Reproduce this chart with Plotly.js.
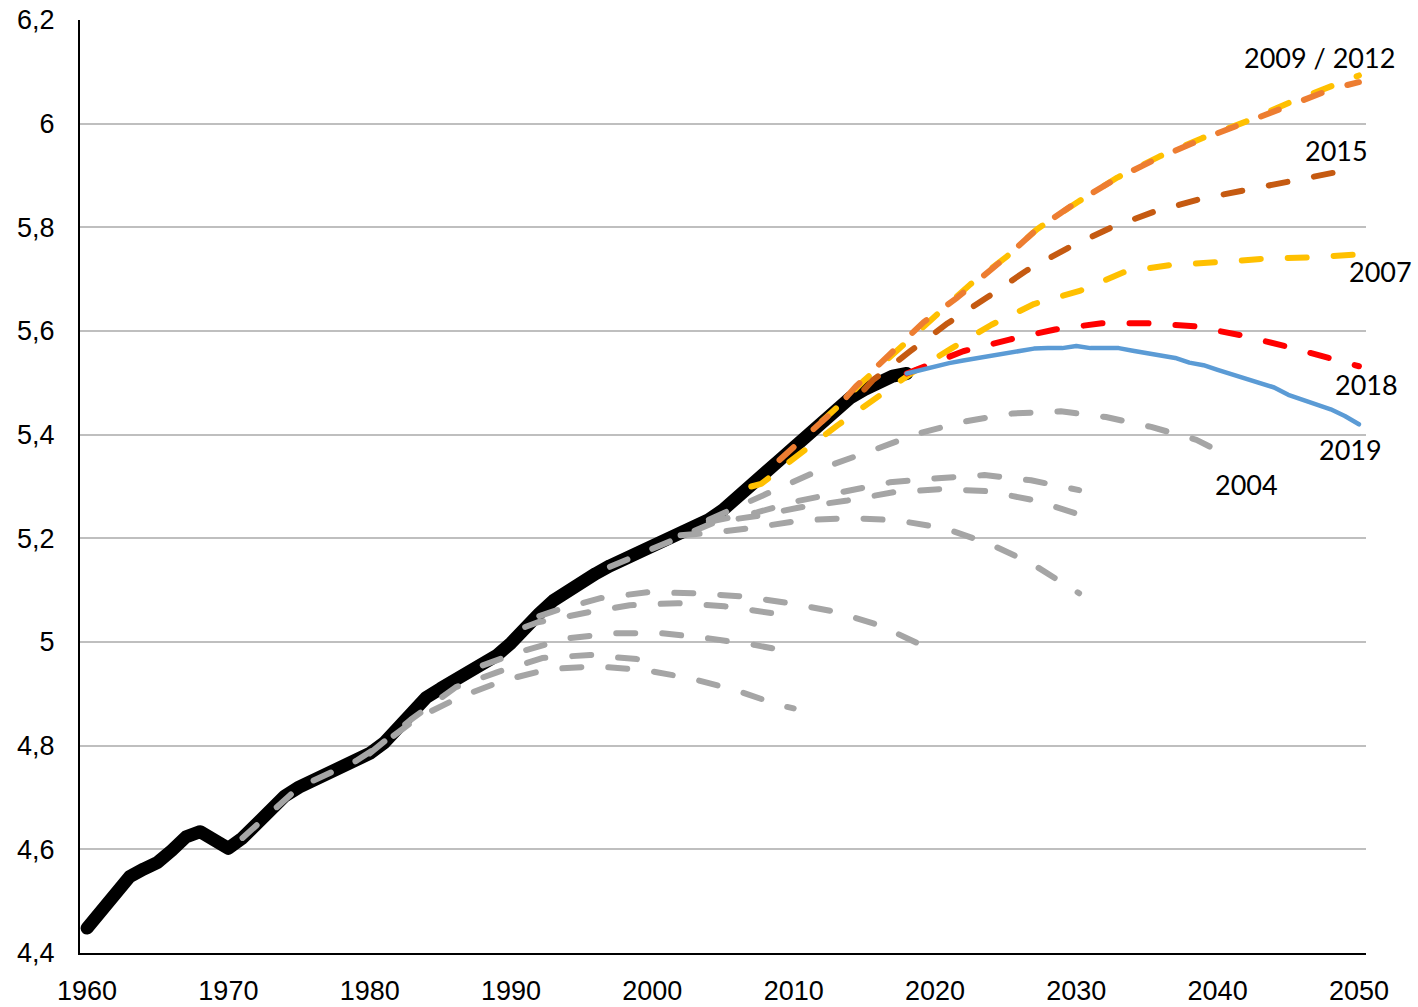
<!DOCTYPE html>
<html>
<head>
<meta charset="utf-8">
<script src="https://cdn.plot.ly/plotly-3.0.1.min.js"></script>
<style>
  html, body { margin: 0; padding: 0; background: #fff; }
  #chart { width: 1418px; height: 1007px; }
  .js-line { stroke-linecap: round !important; stroke-linejoin: round !important; }
</style>
</head>
<body>
<div id="chart"></div>
<script>
// ---------- DATA ----------
const histYears = [1960,1961,1962,1963,1964,1965,1966,1967,1968,1969,1970,1971,1972,1973,1974,1975,1976,1977,1978,1979,1980,1981,1982,1983,1984,1985,1986,1987,1988,1989,1990,1991,1992,1993,1994,1995,1996,1997,1998,1999,2000,2001,2002,2003,2004,2005,2006,2007,2008,2009,2010,2011,2012,2013,2014,2015,2016,2017,2018];
const histValues = [4.448,4.48,4.513,4.547,4.562,4.575,4.598,4.624,4.634,4.617,4.602,4.622,4.652,4.68,4.703,4.72,4.733,4.745,4.757,4.77,4.785,4.805,4.833,4.865,4.893,4.91,4.925,4.939,4.955,4.974,4.998,5.029,5.055,5.08,5.099,5.117,5.132,5.147,5.16,5.171,5.181,5.195,5.206,5.219,5.236,5.255,5.277,5.3,5.326,5.351,5.375,5.401,5.426,5.451,5.471,5.487,5.503,5.513,5.518];

// older projections (grey)
const g1Years = [1971,1975,1979,1981,1983.35,1986.4,1989.5,1992.7,1996,1999.4,2002.7,2005.9,2009,2010];
const g1Values = [4.622,4.72,4.77,4.805,4.853,4.894,4.926,4.948,4.953,4.946,4.93,4.907,4.878,4.872];
const g2Years = [1980,1982.9,1986.1,1989.05,1992.2,1995.6,1998.9,2000];
const g2Values = [4.785,4.85,4.913,4.942,4.969,4.975,4.967,4.963];
const g3Years = [1988,1990.75,1994,1997.3,2000.65,2004,2007.3,2010];
const g3Values = [4.955,4.982,5.007,5.017,5.017,5.007,4.994,4.98];
const g4Years = [1991,1991.9,1995.2,1998.4,2001.8,2005.1,2008.4,2009.6];
const g4Values = [5.029,5.038,5.056,5.071,5.075,5.069,5.056,5.053];
const g5Years = [1992,1993.2,1996.4,1999.7,2003,2006.4,2009.7,2013,2016.1,2019.5,2020];
const g5Values = [5.05,5.061,5.085,5.096,5.094,5.088,5.075,5.058,5.032,4.988,4.982];
const gbYears = [2004,2007.4,2010.3,2013.6,2016.8,2020.2,2023.5,2026.8,2029.7,2030.2];
const gbValues = [5.232,5.25,5.272,5.289,5.308,5.316,5.322,5.312,5.297,5.293];
const gcYears = [1997,1999.5,2002,2004.5,2007.4,2010.5,2013.8,2017.1,2020.4,2023.7,2027.1,2029.8,2030.2];
const gcValues = [5.145,5.174,5.203,5.232,5.243,5.26,5.273,5.289,5.295,5.291,5.273,5.25,5.246];
const gdYears = [2002,2004,2007.3,2010.6,2014,2017.25,2020.6,2023.8,2026.8,2029.6,2030.2];
const gdValues = [5.206,5.21,5.221,5.235,5.239,5.235,5.22,5.19,5.152,5.106,5.094];
const p2004Years = [2004,2006.6,2009.6,2012.6,2015.8,2018.9,2022.2,2025.5,2028.9,2032.1,2035.3,2038.5,2039.8];
const p2004Values = [5.236,5.268,5.304,5.341,5.372,5.403,5.426,5.441,5.445,5.434,5.415,5.39,5.372];

// newer projections (coloured)
const p2007Years = [2007,2007.7,2010.3,2013.1,2015.8,2018.4,2021.2,2024,2027,2030.3,2033.5,2036.9,2040.2,2043.5,2046.8,2050];
const p2007Values = [5.3,5.305,5.36,5.418,5.47,5.52,5.567,5.612,5.652,5.678,5.715,5.728,5.733,5.74,5.742,5.748];
const p2012Years = [2012,2013,2015,2017.5,2020,2022.5,2025.1,2027.2,2030.05,2032.9,2035.9,2038.9,2042,2045.1,2048.2,2050];
const p2012Values = [5.426,5.451,5.505,5.567,5.627,5.69,5.744,5.796,5.848,5.896,5.937,5.972,6.004,6.041,6.074,6.093];
const p2009Years = [2009,2011,2013,2014.4,2016.9,2019.2,2021.6,2025.1,2027.2,2030,2032.9,2035.9,2038.9,2042,2045.1,2048.2,2050];
const p2009Values = [5.351,5.401,5.45,5.493,5.556,5.617,5.665,5.744,5.796,5.848,5.895,5.935,5.97,6.003,6.038,6.068,6.08];
const p2015Years = [2015,2015.6,2018.2,2020.9,2023.7,2026.5,2029.4,2032.5,2035.5,2038.8,2042,2045.3,2048.6,2050];
const p2015Values = [5.487,5.505,5.56,5.615,5.665,5.717,5.76,5.8,5.83,5.855,5.872,5.889,5.907,5.915];
const p2018Years = [2018,2019.3,2022,2025.2,2028.5,2031.8,2035,2038.4,2041.6,2044.9,2048.2,2050];
const p2018Values = [5.518,5.532,5.561,5.583,5.603,5.615,5.615,5.609,5.592,5.57,5.547,5.532];
const p2019Years = [2018,2019,2020,2021,2022,2023,2024,2025,2026,2027,2028,2029,2030,2031,2032,2033,2034,2035,2036,2037,2038,2039,2040,2041,2042,2043,2044,2045,2046,2047,2048,2049,2050];
const p2019Values = [5.518,5.525,5.53,5.538,5.543,5.548,5.553,5.557,5.562,5.566,5.567,5.567,5.571,5.567,5.567,5.567,5.562,5.557,5.553,5.548,5.539,5.534,5.525,5.517,5.509,5.5,5.491,5.477,5.467,5.457,5.449,5.436,5.42];

const labelTexts = ['2009 / 2012','2015','2007','2018','2019','2004'];

// ---------- STYLE ----------
const GREY = '#A5A5A5';
const DASH = '19px,27px';
function dashed(x, y, color) {
  return {x: x, y: y, type: 'scatter', mode: 'lines', hoverinfo: 'skip',
          line: {color: color, width: 6, dash: DASH}};
}

const traces = [
  {x: histYears, y: histValues, type: 'scatter', mode: 'lines', hoverinfo: 'skip',
   line: {color: '#000000', width: 13}},
  dashed(g1Years, g1Values, GREY),
  dashed(g2Years, g2Values, GREY),
  dashed(g3Years, g3Values, GREY),
  dashed(g4Years, g4Values, GREY),
  dashed(g5Years, g5Values, GREY),
  dashed(gbYears, gbValues, GREY),
  dashed(gcYears, gcValues, GREY),
  dashed(gdYears, gdValues, GREY),
  dashed(p2004Years, p2004Values, GREY),
  dashed(p2007Years, p2007Values, '#FFC000'),
  dashed(p2012Years, p2012Values, '#FFC000'),
  dashed(p2009Years, p2009Values, '#ED7D31'),
  dashed(p2015Years, p2015Values, '#C55A11'),
  dashed(p2018Years, p2018Values, '#FF0000'),
  {x: p2019Years, y: p2019Values, type: 'scatter', mode: 'lines', hoverinfo: 'skip',
   line: {color: '#5B9BD5', width: 4.5}}
];

const labelPos = [[0.9642,0.9598],[0.9774,0.8602],[1.0109,0.7306],[1.0,0.6095],[0.9883,0.5399],[0.9067,0.5024]];
const annotations = labelTexts.map((t, i) => ({
  text: t, xref: 'paper', yref: 'paper', x: labelPos[i][0], y: labelPos[i][1],
  xanchor: 'center', yanchor: 'middle', showarrow: false,
  font: {family: 'Lato, "Open Sans", sans-serif', size: 27, color: '#000'}
}));

const layout = {
  width: 1418, height: 1007,
  margin: {l: 80, r: 52, t: 20, b: 54, pad: 0},
  paper_bgcolor: '#fff', plot_bgcolor: '#fff',
  showlegend: false, hovermode: false,
  separators: ', ',
  font: {family: '"Liberation Sans", Arial, sans-serif', size: 27, color: '#000'},
  xaxis: {range: [1959.5, 2050.5], tick0: 1960, dtick: 10, showgrid: false, zeroline: false,
          showline: true, linecolor: '#000', linewidth: 2, ticks: '', ticklabelstandoff: 13,
          tickfont: {size: 27, color: '#000'}},
  yaxis: {range: [4.4, 6.2], tick0: 4.4, dtick: 0.2, showgrid: true, gridcolor: '#BFBFBF', gridwidth: 2,
          zeroline: false, showline: true, linecolor: '#000', linewidth: 2, ticks: '',
          ticklabelstandoff: 18, tickfont: {size: 27, color: '#000'}},
  annotations: annotations
};

Plotly.newPlot('chart', traces, layout, {staticPlot: true, displayModeBar: false});
</script>
</body>
</html>
